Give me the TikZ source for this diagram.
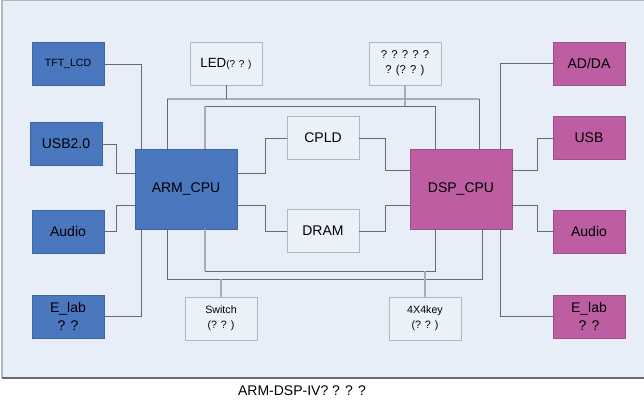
\documentclass[tikz,border=0pt]{standalone}
\usepackage{fontspec}
\setmainfont{Liberation Sans}
\usetikzlibrary{calc}
\definecolor{panelbg}{HTML}{E8EEF8}
\definecolor{armblue}{HTML}{4A77BE}
\definecolor{dspmag}{HTML}{BC5EA1}
\definecolor{wiredark}{HTML}{666A73}
\definecolor{wirelight}{HTML}{A9ACB3}
\definecolor{boxgray}{HTML}{B3B6BC}
\tikzset{
  armbox/.style={draw=armblue!85!black, fill=armblue, minimum width=54pt, minimum height=32.25pt,
    inner sep=0pt, align=center, font=\fontsize{10.5}{13}\selectfont},
  dspbox/.style={armbox, draw=dspmag!85!black, fill=dspmag},
  cpubox/.style={minimum width=76.5pt, minimum height=60pt},
  plainbox/.style={armbox, draw=boxgray, fill=panelbg!85!white},
  darkwire/.style={draw=wiredark, line width=0.6pt},
  lightwire/.style={draw=wirelight, line width=1.3pt},
}
\begin{document}
\begin{tikzpicture}[x=0.75pt, y=-0.75pt]
            \useasboundingbox (0,0) rectangle (644,402);
            \fill[panelbg] (2,0) rectangle (644,378);
            \draw[boxgray, line width=1pt] (2,378) -- (2,0.7) -- (644,0.7);
            \draw[wiredark, line width=0.9pt] (2,378) -- (644,378);
            \node[armbox, cpubox] (arm) at (186,189) {ARM\_CPU};
            \node[dspbox, cpubox] (dsp) at (461,189) {DSP\_CPU};
            \node[armbox, font=\fontsize{7.9}{9}\selectfont] (tft) at (68,64) {TFT\_LCD};
            \node[armbox] (usbl) at (66,144) {USB2.0};
            \node[armbox] (audiol) at (68,231.5) {Audio};
            \node[armbox] (elabl) at (68,316.5) {E\_lab\\? ?};
            \node[dspbox] (adda) at (589,63.5) {AD/DA};
            \node[dspbox] (usbr) at (589,138) {USB};
            \node[dspbox] (audior) at (589,231.5) {Audio};
            \node[dspbox] (elabr) at (589,316.5) {E\_lab\\? ?};
            \node[plainbox] (cpld) at (323,138) {CPLD};
            \node[plainbox] (dram) at (323,231) {DRAM};
            \node[plainbox, font=\fontsize{10}{12}\selectfont] (led) at (226,63.5) {LED{\fontsize{7.5}{9}\selectfont(? ? )}};
            \node[plainbox, font=\fontsize{8.5}{11}\selectfont] (ctrl) at (405,63.5) {? ? ? ? ?\\? (? ? )};
            \node[plainbox, font=\fontsize{8}{11}\selectfont] (switch) at (221,318.5) {Switch\\(? ? )};
            \node[plainbox, font=\fontsize{8}{11}\selectfont] (keypad) at (425,318.5) {4X4key\\(? ? )};
            \node[font=\fontsize{10.5}{12}\selectfont] (caption) at (302,391) {ARM-DSP-IV? ? ? ?};
            \coordinate (toL) at (167,99);
            \coordinate (toR) at (479,99);
            \coordinate (tiL) at (205,106);
            \coordinate (tiR) at (435,106);
            \coordinate (boL) at (167,279);
            \coordinate (boR) at (482,279);
            \coordinate (biL) at (205,271);
            \coordinate (biR) at (435,271);
            \draw[darkwire] (tft.east) -| ($(arm.north west)+(7,0)$);
            \draw[darkwire] (usbl.east) -- ++(14,0) |- ($(arm.west)+(0,-16)$);
            \draw[darkwire] (audiol.east) -- ++(12,0) |- ($(arm.west)+(0,16)$);
            \draw[darkwire] (elabl.east) -| ($(arm.south west)+(7,0)$);
            \draw[darkwire] ($(arm.east)+(0,-16)$) -- ++(28,0) |- (cpld.west);
            \draw[darkwire] ($(arm.east)+(0,16)$) -- ++(28,0) |- (dram.west);
            \draw[darkwire] (cpld.east) -- ++(26,0) |- ($(dsp.west)+(0,-19)$);
            \draw[darkwire] (dram.east) -- ++(26,0) |- ($(dsp.west)+(0,16)$);
            \draw[darkwire] (usbr.west) -- ++(-15,0) |- ($(dsp.east)+(0,-19)$);
            \draw[darkwire] (audior.west) -- ++(-15,0) |- ($(dsp.east)+(0,16)$);
            \draw[darkwire] (adda.west) -| ($(dsp.north east)+(-12,0)$);
            \draw[darkwire] (elabr.west) -| ($(dsp.south east)+(-12,0)$);
            \draw[lightwire] (toL) -- (toR);
            \draw[darkwire] (toL) -- (toL |- arm.north);
            \draw[darkwire] (toR) -- (toR |- dsp.north);
            \draw[darkwire] (led.south) -- (led.south |- toL);
            \draw[darkwire] (tiL) -- (tiR);
            \draw[lightwire] (tiL) -- (tiL |- arm.north);
            \draw[darkwire] (tiR) -- (tiR |- dsp.north);
            \draw[wirelight, line width=0.8pt] (ctrl.south) -- (ctrl.south |- tiL);
            \draw[darkwire] (boL |- arm.south) |- (boR) -- (boR |- dsp.south);
            \draw[lightwire] (biL |- arm.south) -- (biL);
            \draw[darkwire] (biL) -- (biR) -- (biR |- dsp.south);
            \draw[lightwire] (switch.north) -- (switch.north |- boL);
            \draw[lightwire] (keypad.north) -- (keypad.north |- biL);
\end{tikzpicture}
\end{document}
